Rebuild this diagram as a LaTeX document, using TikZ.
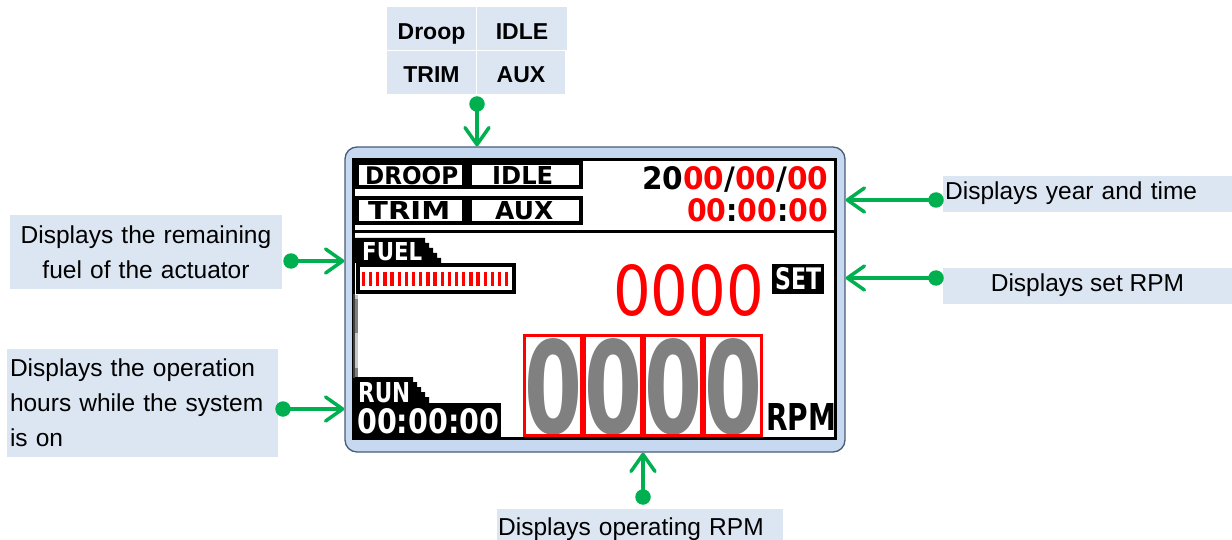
\documentclass[tikz,border=0pt]{standalone}
\usepackage{fontspec}
\usepackage{graphicx}
\setmainfont{Liberation Sans}
\newfontfamily\lcd{DejaVu Sans}
\usetikzlibrary{arrows.meta}
\definecolor{gr}{HTML}{00B050}
\definecolor{callbg}{HTML}{DCE6F2}
\definecolor{framebg}{HTML}{C6D9F0}
\definecolor{frameln}{HTML}{4A5B78}
\definecolor{lcdred}{HTML}{FF0000}
\definecolor{lcdgray}{HTML}{808080}
\begin{document}
\begin{tikzpicture}[x=1pt,y=-1pt,
  callout/.style={fill=callbg, inner ysep=0pt, font=\fontsize{24.5}{35}\selectfont},
  cell/.style={fill=callbg, inner sep=0pt, anchor=base, font=\fontsize{23}{23}\selectfont\bfseries},
  dot/.style={circle, fill=gr, inner sep=0pt, minimum size=15.5pt},
  garrow/.style={draw=gr, line width=3.5pt, -{Straight Barb[length=17pt,width=24pt,round]}},
  lcdtxt/.style={inner sep=0pt, anchor=base west},
  lcdframe/.style={draw=frameln, fill=framebg, line width=1.3pt, rounded corners=12pt, inner sep=0pt},
  rpmbox/.style={draw=lcdred, line width=3pt}
]
\useasboundingbox (0,0) rectangle (1232,540);

% ---------- LCD frame ----------
\node[lcdframe, minimum width=500pt, minimum height=305pt] (lcd) at (595,299.5) {};
\fill[white] (353.5,159.5) rectangle (835.5,438.5);
\draw[black, line width=3pt] (353.5,159.5) rectangle (835.5,438.5);

% top mode boxes
\fill[black] (355,161) rectangle (583,189);
\fill[white] (359,165) rectangle (462,185);
\fill[white] (472,165) rectangle (579,185);
\fill[black] (355,196) rectangle (583,225);
\fill[white] (359,200) rectangle (462,221);
\fill[white] (472,200) rectangle (579,221);
\node[lcdtxt] (tdroop) at (365,185) {\resizebox{93pt}{18pt}{\lcd\bfseries DROOP}};
\node[lcdtxt] (tidle) at (492,185) {\resizebox{61pt}{18pt}{\lcd\bfseries IDLE}};
\node[lcdtxt] (ttrim) at (368,220) {\resizebox{82pt}{18pt}{\lcd\bfseries TRIM}};
\node[lcdtxt] (taux) at (495,220) {\resizebox{58pt}{18pt}{\lcd\bfseries AUX}};

% date and time
\node[lcdtxt] (tdate) at (642,190) {\resizebox{186pt}{23pt}{\lcd\bfseries 20\textcolor{lcdred}{00}/\textcolor{lcdred}{00}/\textcolor{lcdred}{00}}};
\node[lcdtxt] (ttime) at (687,222) {\resizebox{141pt}{23pt}{\lcd\bfseries\textcolor{lcdred}{00}:\textcolor{lcdred}{00}:\textcolor{lcdred}{00}}};

% separator
\fill[black] (353.5,230) rectangle (835.5,233.5);

% FUEL tab
\fill[black] (355,238) -| (425,243) -| (429,248) -| (433,253) -| (437,258) -| (441,263) -- (355,263) -- cycle;
\node[lcdtxt] (tfuel) at (362,261) {\resizebox{60pt}{18pt}{\lcd\bfseries\textcolor{white}{FUEL}}};
\fill[black] (356,263) rectangle (516,294);
\fill[white] (360,267) rectangle (512,290);
\foreach \i in {0,...,20} \fill[lcdred] ({361.7+7.17*\i},272) rectangle ++(3.3,14);

% gray strip
\fill[black!75] (353,294) rectangle (355,378);
\fill[gray!45] (355,295) rectangle (358,299);
\fill[lcdgray] (355,299) rectangle (358,333);
\fill[gray!45] (355,333) rectangle (358,368);
\fill[lcdgray] (355,368) rectangle (358,377);

% RUN tab
\fill[black] (355,377) -| (413,382) -| (417,387) -| (421,392) -| (425,397) -| (429,403) -- (355,403) -- cycle;
\fill[black] (355,403) rectangle (501,438);
\node[lcdtxt] (trun) at (358,402) {\resizebox{52pt}{20pt}{\lcd\bfseries\textcolor{white}{RUN}}};
\node[lcdtxt] (truntime) at (357,433) {\resizebox{142pt}{25pt}{\lcd\bfseries\textcolor{white}{00:00:00}}};

% set RPM
\node[lcdtxt] (tset) at (613,315) {\resizebox{151pt}{51pt}{\lcd\textcolor{lcdred}{0000}}};
\fill[black] (772,264) rectangle (824,294);
\node[lcdtxt] (tsetlbl) at (775,290) {\resizebox{46pt}{22pt}{\lcd\bfseries\textcolor{white}{SET}}};

% operating RPM
\foreach \k/\cx in {0/553,1/613,2/673,3/733}{
  \node[inner sep=0pt, anchor=base] (big\k) at (\cx,433) {\resizebox{58pt}{95pt}{\lcd\bfseries\textcolor{lcdgray}{0}}};
  \draw[rpmbox] ({\cx-28.5},335.5) rectangle ({\cx+28.5},435.5);
}
\node[lcdtxt] (trpm) at (766,430) {\resizebox{70pt}{27pt}{\lcd\bfseries RPM}};

% ---------- callouts ----------
\node[cell, minimum width=89pt, text height=32pt, text depth=10.7pt] (cdroop) at (431.5,39.3) {Droop};
\node[cell, minimum width=90pt, text height=32pt, text depth=10.7pt] (cidle) at (522,39.3) {IDLE};
\node[cell, minimum width=89pt, text height=31.7pt, text depth=11.3pt] (ctrim) at (431.5,82.7) {TRIM};
\node[cell, minimum width=88pt, text height=31.7pt, text depth=11.3pt] (caux) at (521,82.7) {AUX};

\node[callout, text width=266pt, inner xsep=3pt, align=center, minimum height=73pt] (cfuel) at (146,252) {Displays the remaining\\fuel of the actuator};
\node[callout, text width=265pt, inner xsep=3pt, align=left, minimum height=108pt] (crun) at (142.5,403) {Displays the operation\\hours while the system\\is on};
\node[callout, anchor=base west, text width=285pt, inner xsep=2pt, align=left, text height=24pt, text depth=12pt] (cyear) at (943,200) {Displays year and time};
\node[callout, anchor=base, minimum width=289pt, inner xsep=0pt, text height=23pt, text depth=13pt] (csetr) at (1087.5,291) {Displays set RPM};
\node[callout, anchor=base west, text width=284pt, inner xsep=1pt, align=left, text height=26pt, text depth=12pt] (coper) at (497,535) {Displays operating RPM};

% ---------- connectors ----------
\node[dot] (dtop) at (477,104) {};
\node[dot] (dfuel) at (291,261) {};
\node[dot] (drun) at (283,409) {};
\node[dot] (dyear) at (936,200) {};
\node[dot] (dset) at (936,278) {};
\node[dot] (doper) at (643,497) {};

\draw[garrow] (dtop.center) -- (dtop.center |- lcd.north);
\draw[garrow] (dfuel.center) -- (dfuel.center -| lcd.west);
\draw[garrow] (drun.center) -- (drun.center -| lcd.west);
\draw[garrow] (dyear.center) -- (dyear.center -| lcd.east);
\draw[garrow] (dset.center) -- (dset.center -| lcd.east);
\draw[garrow] (doper.center) -- (doper.center |- lcd.south);
\end{tikzpicture}
\end{document}
